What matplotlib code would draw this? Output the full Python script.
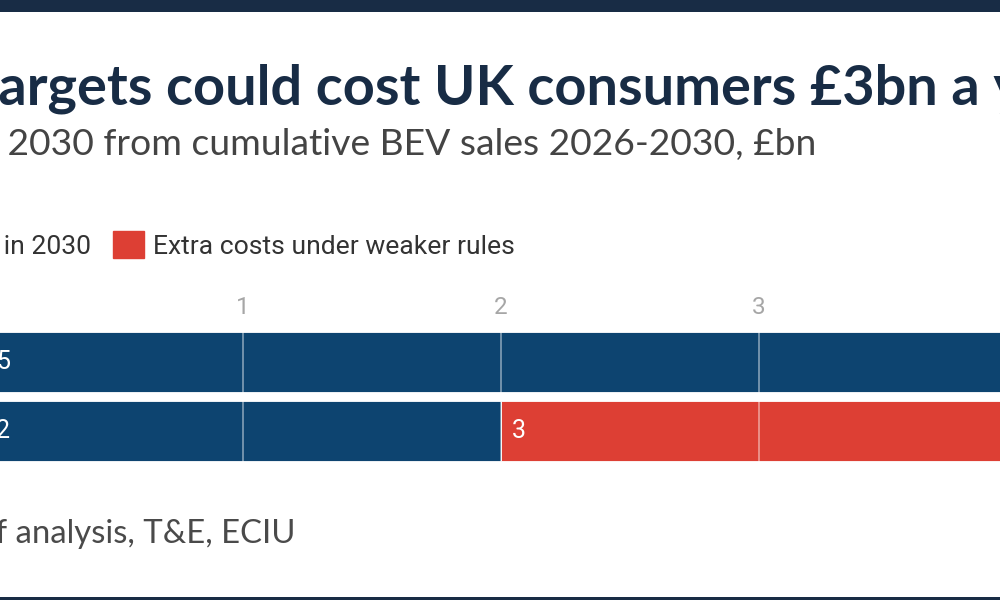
import matplotlib
matplotlib.use("Agg")
import matplotlib.pyplot as plt
from matplotlib.patches import Patch, Rectangle

# ── data ──────────────────────────────────────────────────────────────────────
scenarios   = ["Current rules", "Weaker rules"]
savings     = [5, 2]          # consumer savings in 2030, £bn
extra_costs = [0, 3]          # extra costs under weaker rules, £bn
x_ticks     = [1, 2, 3]

TITLE    = "Weaker EV targets could cost UK consumers £3bn a year"
SUBTITLE = "Consumer savings in 2030 from cumulative BEV sales 2026-2030, £bn"
LEG_SAVE = "Consumer savings in 2030"
LEG_COST = "Extra costs under weaker rules"
SOURCE   = "Source: Summary of analysis, T&E, ECIU"

# ── style ─────────────────────────────────────────────────────────────────────
C_BLUE  = "#0d4470"
C_RED   = "#dd3f34"
C_NAVY  = "#182c45"
C_SUB   = "#444444"
C_TICK  = "#a6a6a6"
F_HEAD  = "Lato"
plt.rcParams["font.family"] = "Roboto"

W, H = 1000, 600
fig = plt.figure(figsize=(10, 6), dpi=100)
fig.patch.set_facecolor("white")
renderer = fig.canvas.get_renderer()


def px_width(s, **kw):
    t = fig.text(0, 0, s, **kw)
    w = t.get_window_extent(renderer).width
    t.remove()
    return w


def fit_size(s, target_px, **kw):
    """font size (pt) that makes s target_px wide"""
    return 20 * target_px / px_width(s, fontsize=20, **kw)


def cropped_text(full, visible, x_vis, y_base, target_px, scale=1.0, **kw):
    """draw full text so that `visible` starts at x_vis (px), sized to target_px wide"""
    size = fit_size(visible, target_px, **kw) * scale
    lead = px_width(full, fontsize=size, **kw) - px_width(full[full.index(visible):], fontsize=size, **kw)
    fig.text((x_vis - lead) / W, 1 - y_base / H, full, fontsize=size,
             va="baseline", ha="left", **kw)
    return size


# frame strips
fig.add_artist(Rectangle((0, 1 - 12 / H), 1, 12 / H, transform=fig.transFigure,
                         color=C_NAVY, lw=0))
fig.add_artist(Rectangle((0, 0), 1, 3 / H, transform=fig.transFigure,
                         color=C_NAVY, lw=0))

# ── texts ─────────────────────────────────────────────────────────────────────
cropped_text(TITLE, "argets could cost UK consumers £3bn a ye", -2, 104, 1003, scale=1.05,
             family=F_HEAD, weight="bold", color=C_NAVY)
cropped_text(SUBTITLE, "2030 from cumulative BEV sales 2026-2030, £bn", 8, 155, 809,
             family=F_HEAD, color=C_SUB)
cropped_text(SOURCE, "analysis, T&E, ECIU", 15, 543, 280,
             family=F_HEAD, color="#4a4a4a")

# ── bars ──────────────────────────────────────────────────────────────────────
ax = fig.add_axes([0, 1 - 470 / H, 1, 150 / H])
ypos = list(range(len(scenarios)))
ax.barh(ypos, savings, height=0.87, color=C_BLUE, edgecolor="white", linewidth=0.6)
ax.barh(ypos, extra_costs, left=savings, height=0.87, color=C_RED,
        edgecolor="white", linewidth=0.6)

for y, s, c in zip(ypos, savings, extra_costs):
    ax.annotate(f"{s}", xy=(0, y), xytext=(8, 0), textcoords="offset points",
                color="white", fontsize=18, va="center", ha="left",
                annotation_clip=False)
    if c:
        ax.annotate(f"{c}", xy=(s, y), xytext=(8, 0), textcoords="offset points",
                    color="white", fontsize=18, va="center", ha="left",
                    annotation_clip=False)

ax.set_xlim(0.058, 3.934)
ax.set_ylim(1.565, -0.609)
ax.set_xticks(x_ticks)
ax.set_yticks([])
ax.xaxis.tick_top()
ax.tick_params(axis="x", length=0, labelsize=17.5, labelcolor=C_TICK, pad=1)
ax.grid(axis="x", color="white", alpha=0.45, linewidth=1.3)
ax.set_axisbelow(False)
for sp in ax.spines.values():
    sp.set_visible(False)
ax.patch.set_alpha(0)

# ── legend ────────────────────────────────────────────────────────────────────
leg_size = fit_size(LEG_COST, 360)
fs_px = leg_size * 100 / 72
leg = fig.legend(
    handles=[Patch(color=C_BLUE, label=LEG_SAVE), Patch(color=C_RED, label=LEG_COST)],
    ncol=2, loc="center left", bbox_to_anchor=(0, 1 - 245 / H), frameon=False,
    fontsize=leg_size, handlelength=31 / fs_px, handleheight=31 / fs_px,
    handletextpad=9 / fs_px, columnspacing=22 / fs_px, borderpad=0, borderaxespad=0,
    labelcolor="#333333",
)
fig.canvas.draw()
red_x0 = leg.legend_handles[1].get_window_extent(renderer).x0
leg.set_bbox_to_anchor(((113 - red_x0) / W, 1 - 245 / H), transform=fig.transFigure)

fig.savefig("out.png", dpi=100)
